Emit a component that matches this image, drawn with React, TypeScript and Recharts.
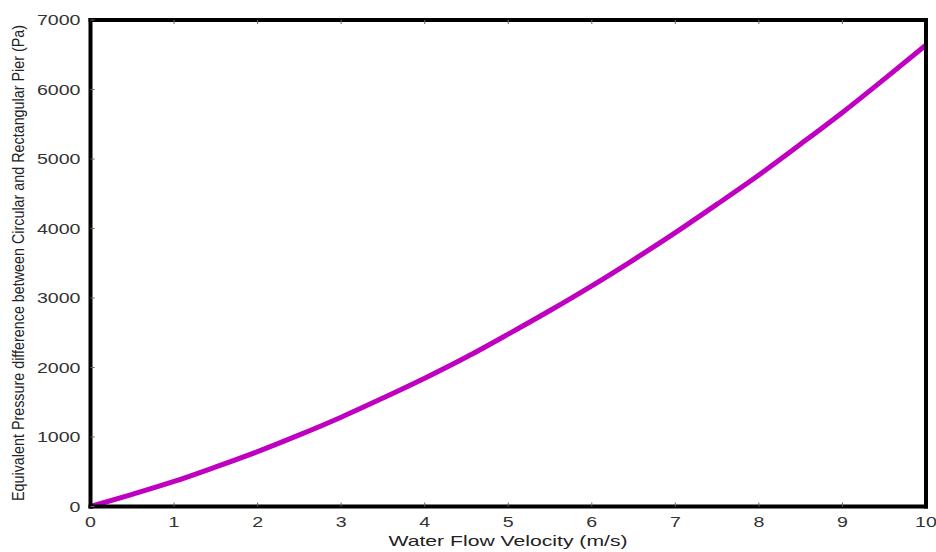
import React from "react";
import { Label, Line, LineChart, XAxis, YAxis } from "recharts";

const velocity = [0, 0.5, 1, 1.5, 2, 2.5, 3, 3.5, 4, 4.5, 5, 5.5, 6, 6.5, 7, 7.5, 8, 8.5, 9, 9.5, 10];
const pressureDiff = [
  0, 175, 360, 570, 790, 1030, 1285, 1560, 1845, 2150, 2480, 2820, 3175, 3550, 3940, 4350, 4770, 5215, 5670,
  6150, 6640,
];
const xTicks = [0, 1, 2, 3, 4, 5, 6, 7, 8, 9, 10];
const yTicks = [0, 1000, 2000, 3000, 4000, 5000, 6000, 7000];

const data = velocity.map((v, i) => ({ v, p: pressureDiff[i] }));

const FONT = '"Liberation Sans", Arial, Helvetica, sans-serif';
const STRETCH = 1.4;
const frame = { stroke: "#000", strokeWidth: 4, strokeLinecap: "square" as const };
const tickLine = { stroke: "#666", strokeWidth: 1 };

// wide-set tick labels
function XTick({ x, y, payload }: any) {
  return (
    <g transform={`translate(${x},${y + 20})`}>
      <text transform={`scale(${STRETCH},1)`} textAnchor="middle" fill="#333" fontSize={14} fontFamily={FONT}>
        {payload.value}
      </text>
    </g>
  );
}

function YTick({ x, y, payload }: any) {
  return (
    <g transform={`translate(${x},${y + 5})`}>
      <text transform={`scale(${STRETCH},1)`} textAnchor="end" fill="#333" fontSize={14} fontFamily={FONT}>
        {payload.value}
      </text>
    </g>
  );
}

const Empty = () => <g />;

export default function App() {
  return (
    <div style={{ position: "absolute", left: 0, top: 0, width: 936, height: 552, background: "#fff" }}>
      <LineChart width={936} height={552} data={data} margin={{ top: 19, right: 9, bottom: 0, left: 0 }}>
        <XAxis
          dataKey="v"
          type="number"
          domain={[0, 10]}
          ticks={xTicks}
          height={45.5}
          axisLine={frame}
          tickLine={tickLine}
          tickSize={-4}
          tickMargin={4}
          tick={<XTick />}
          interval={0}
        >
          <Label
            content={() => (
              <text
                x={508}
                y={546}
                textAnchor="middle"
                textLength={239}
                lengthAdjust="spacingAndGlyphs"
                fontSize={15}
                fill="#222"
                fontFamily={FONT}
              >
                Water Flow Velocity (m/s)
              </text>
            )}
          />
        </XAxis>
        {/* mirrored axes close the frame on top and right */}
        <XAxis
          xAxisId="top"
          orientation="top"
          dataKey="v"
          type="number"
          domain={[0, 10]}
          ticks={xTicks}
          height={1}
          axisLine={frame}
          tickLine={tickLine}
          tickSize={-4}
          tick={<Empty />}
          interval={0}
        />
        <YAxis
          type="number"
          domain={[0, 7000]}
          ticks={yTicks}
          width={90.5}
          axisLine={frame}
          tickLine={tickLine}
          tickSize={-4}
          tickMargin={14}
          tick={<YTick />}
          interval={0}
        >
          <Label
            content={() => (
              <text
                transform={`translate(24,263) scale(1.3,1) rotate(-90)`}
                textAnchor="middle"
                textLength={476}
                lengthAdjust="spacingAndGlyphs"
                fontSize={13}
                fill="#222"
                fontFamily={FONT}
              >
                Equivalent Pressure difference between Circular and Rectangular Pier (Pa)
              </text>
            )}
          />
        </YAxis>
        <YAxis
          yAxisId="right"
          orientation="right"
          type="number"
          domain={[0, 7000]}
          ticks={yTicks}
          width={1}
          axisLine={frame}
          tickLine={tickLine}
          tickSize={-4}
          tick={<Empty />}
          interval={0}
        />
        <Line
          type="monotone"
          dataKey="p"
          stroke="#c000c0"
          strokeWidth={5}
          dot={false}
          activeDot={false}
          isAnimationActive={false}
        />
      </LineChart>
    </div>
  );
}
